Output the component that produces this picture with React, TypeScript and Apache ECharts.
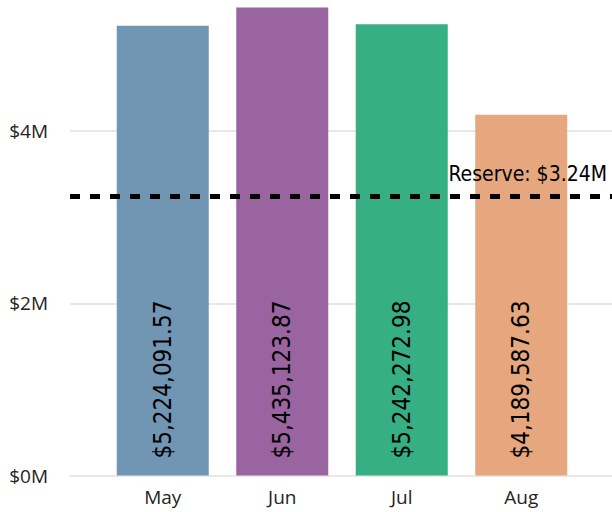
import React, { useEffect, useRef } from "react";
import * as echarts from "echarts";

const months = ["May", "Jun", "Jul", "Aug"];
const totals = [5224091.57, 5435123.87, 5242272.98, 4189587.63];
const barColors = ["#7096B4", "#9A64A0", "#35AF83", "#E6A77F"];
const reserve = 3240000;
const reserveLabel = "Reserve: $3.24M";
const yMax = 5500000;
const yInterval = 2000000;

const fmtMoney = (v: number) =>
  "$" + v.toLocaleString("en-US", { minimumFractionDigits: 2, maximumFractionDigits: 2 });

export default function App() {
  const ref = useRef<HTMLDivElement>(null);
  useEffect(() => {
    if (!ref.current) return;
    const chart = echarts.init(ref.current, null, { renderer: "svg" });
    const top = 2;
    const bottom = 36.5;
    chart.setOption({
      animation: false,
      grid: [
        { left: 70, right: 0, top, bottom },
        { left: 103, right: 31, top, bottom },
      ],
      xAxis: [
        { type: "value", gridIndex: 0, min: 0, max: 1, show: false },
        {
          type: "category",
          gridIndex: 1,
          data: months,
          axisLine: { show: false },
          axisTick: { show: false },
          axisLabel: { color: "#252423", fontSize: 19, fontFamily: "Open Sans", margin: 12 },
        },
      ],
      yAxis: [
        {
          type: "value",
          gridIndex: 0,
          min: 0,
          max: yMax,
          interval: yInterval,
          axisLine: { show: false },
          axisTick: { show: false },
          splitLine: { showMaxLine: false, lineStyle: { color: "#E8E8E8", width: 2 } },
          axisLabel: {
            color: "#252423",
            fontSize: 19,
            fontFamily: "Open Sans",
            margin: 22,
            showMaxLabel: false,
            formatter: (v: number) => "$" + Math.round(v / 1000000) + "M",
          },
        },
        { type: "value", gridIndex: 1, min: 0, max: yMax, show: false },
      ],
      series: [
        {
          type: "bar",
          xAxisIndex: 1,
          yAxisIndex: 1,
          barWidth: 92,
          data: totals.map((v, i) => ({ value: v, itemStyle: { color: barColors[i] } })),
          label: {
            show: true,
            position: "insideBottom",
            rotate: 90,
            distance: 17,
            align: "left",
            verticalAlign: "middle",
            color: "#000",
            fontSize: 24,
            fontFamily: "DejaVu Sans Condensed",
            formatter: (p: any) => fmtMoney(p.value),
          },
          z: 2,
        },
        {
          type: "line",
          xAxisIndex: 0,
          yAxisIndex: 0,
          data: [],
          z: 5,
          markLine: {
            silent: true,
            symbol: "none",
            lineStyle: { color: "#000", type: [10, 10], width: 5 },
            label: {
              show: true,
              position: "insideEndTop",
              formatter: reserveLabel,
              color: "#000",
              fontSize: 21,
              fontFamily: "DejaVu Sans Condensed",
              distance: [5, 12],
            },
            data: [{ yAxis: reserve }],
          },
        },
      ],
    });
    return () => chart.dispose();
  }, []);
  return <div ref={ref} style={{ width: 612, height: 512, position: "absolute", left: 0, top: 0 }} />;
}
